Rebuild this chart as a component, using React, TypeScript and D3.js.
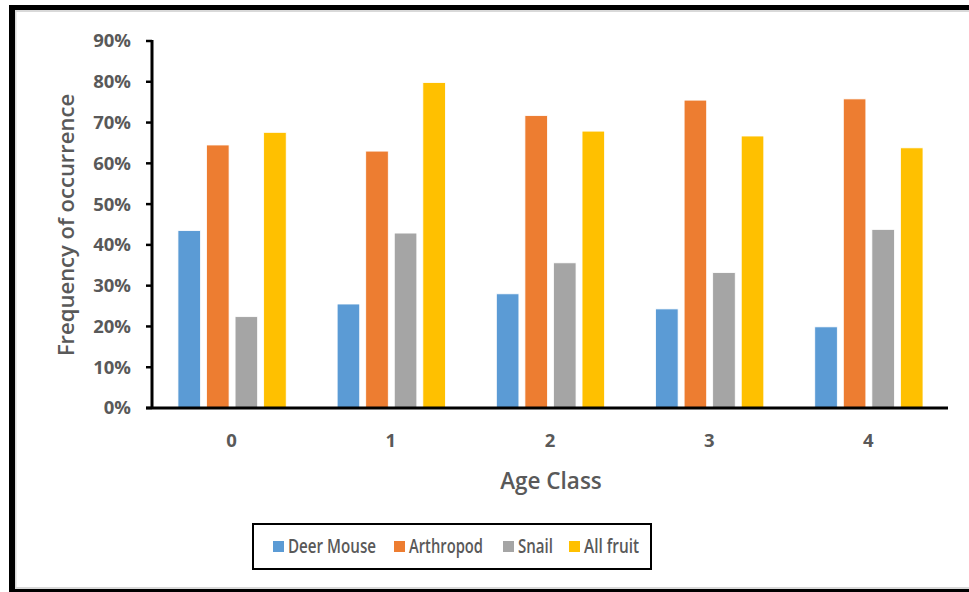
import React from "react";
import * as d3 from "d3";

const categories = ["0", "1", "2", "3", "4"];
const seriesNames = ["Deer Mouse", "Arthropod", "Snail", "All fruit"];
const deerMouse = [0.435, 0.255, 0.28, 0.243, 0.199];
const arthropod = [0.645, 0.63, 0.717, 0.755, 0.758];
const snail = [0.224, 0.429, 0.356, 0.332, 0.438];
const allFruit = [0.676, 0.798, 0.679, 0.667, 0.638];
const yTicks = [0, 0.1, 0.2, 0.3, 0.4, 0.5, 0.6, 0.7, 0.8, 0.9];
const colors = ["#5B9BD5", "#ED7D31", "#A5A5A5", "#FFC000"];

const seriesValues = [deerMouse, arthropod, snail, allFruit];

const W = 969;
const H = 592;
const plot = { left: 152, right: 948, top: 41, bottom: 408 };
const FONT = "'Open Sans', 'DejaVu Sans', sans-serif";
const TEXT = "#595959";

// legend geometry: swatch left edges and label widths (condensed labels)
const legendBox = { x: 253, y: 524, w: 398, h: 45 };
const legendSwatchX = [273, 394, 503, 569];
const legendLabelW = [88, 74, 35, 55];

export default function App() {
  const x = d3.scaleBand<string>().domain(categories).range([plot.left, plot.right]).padding(0);
  const bw = x.bandwidth();
  const xInner = d3
    .scaleBand<string>()
    .domain(seriesNames)
    .range([bw * 0.163, bw * 0.843])
    .paddingInner(0.21);
  const y = d3.scaleLinear().domain([0, 0.9]).range([plot.bottom, plot.top]);
  const pct = d3.format(".0%");
  const sq = 11;
  const legendMid = legendBox.y + legendBox.h / 2;

  return (
    <svg
      width={W}
      height={H}
      style={{ position: "absolute", left: 0, top: 0, display: "block", background: "#fff" }}
    >
      {/* frame */}
      <rect x={9} y={5} width={W} height={H} fill="#000" />
      <rect x={15} y={10} width={W} height={579} fill="#d9d9d9" />
      <rect x={16.5} y={12} width={W} height={575} fill="#fff" />

      {/* bars */}
      {categories.map((c, ci) => (
        <g key={c} transform={`translate(${x(c)},0)`}>
          {seriesNames.map((s, si) => {
            const v = seriesValues[si][ci];
            return (
              <rect
                key={s}
                x={xInner(s)}
                y={y(v)}
                width={xInner.bandwidth()}
                height={y(0) - y(v)}
                fill={colors[si]}
                stroke="#fff"
                strokeWidth={0.8}
              />
            );
          })}
        </g>
      ))}

      {/* y axis */}
      <line x1={plot.left} x2={plot.left} y1={y(0.9) - 1} y2={y(0)} stroke="#000" strokeWidth={3} />
      {yTicks.map((t) => (
        <g key={t}>
          <line x1={plot.left - 6} x2={plot.left} y1={y(t)} y2={y(t)} stroke="#000" strokeWidth={2.5} />
          <text
            x={plot.left - 21}
            y={y(t)}
            dy="0.35em"
            textAnchor="end"
            fontFamily={FONT}
            fontWeight={700}
            fontSize={18.5}
            fill={TEXT}
          >
            {pct(t)}
          </text>
        </g>
      ))}

      {/* x axis */}
      <line x1={plot.left - 6} x2={plot.right} y1={y(0)} y2={y(0)} stroke="#000" strokeWidth={3} />
      {categories.map((c) => (
        <text
          key={c}
          x={(x(c) ?? 0) + bw / 2}
          y={441}
          dy="0.35em"
          textAnchor="middle"
          fontFamily={FONT}
          fontWeight={700}
          fontSize={18.5}
          fill={TEXT}
        >
          {c}
        </text>
      ))}

      {/* axis titles */}
      <text
        x={551}
        y={481}
        dy="0.35em"
        textAnchor="middle"
        fontFamily={FONT}
        fontWeight={600}
        fontSize={22.5}
        fill={TEXT}
      >
        Age Class
      </text>
      <text
        transform="translate(66,225) rotate(-90)"
        dy="0.35em"
        textAnchor="middle"
        fontFamily={FONT}
        fontWeight={600}
        fontSize={22}
        fill={TEXT}
      >
        Frequency of occurrence
      </text>

      {/* legend */}
      <rect
        x={legendBox.x}
        y={legendBox.y}
        width={legendBox.w}
        height={legendBox.h}
        fill="#fff"
        stroke="#000"
        strokeWidth={2}
      />
      {seriesNames.map((s, i) => (
        <g key={s}>
          <rect x={legendSwatchX[i]} y={legendMid - sq / 2} width={sq} height={sq} fill={colors[i]} />
          <text
            x={legendSwatchX[i] + sq + 4}
            y={legendMid}
            dy="0.35em"
            fontFamily={FONT}
            fontWeight={600}
            fontSize={19}
            fill={TEXT}
            textLength={legendLabelW[i]}
            lengthAdjust="spacingAndGlyphs"
          >
            {s}
          </text>
        </g>
      ))}
    </svg>
  );
}
